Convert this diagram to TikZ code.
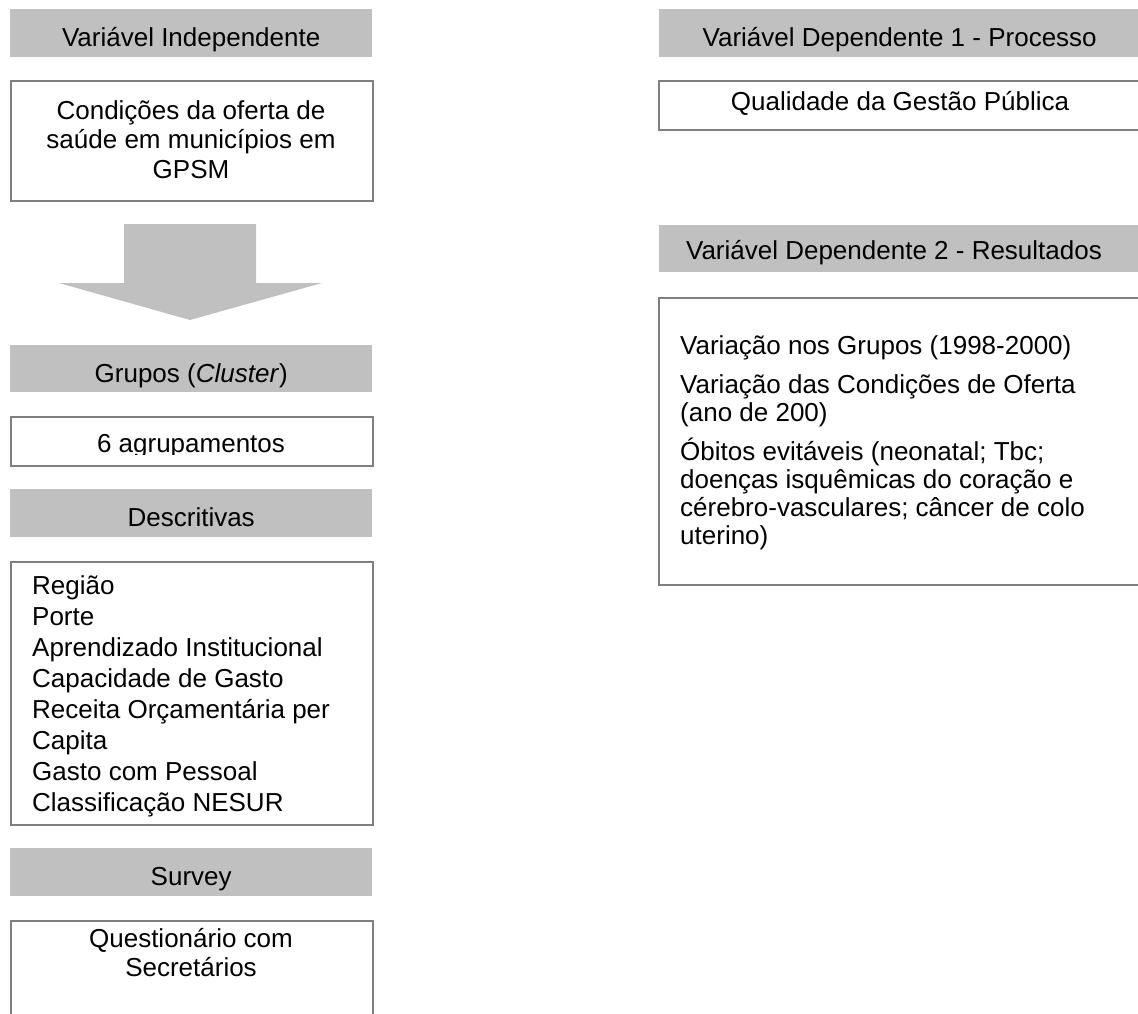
\documentclass[tikz,border=0pt]{standalone}
\usepackage{fontspec}
\setmainfont{Liberation Sans}
\usepackage{tikz}
\usetikzlibrary{positioning}
\usepackage{xcolor}
\definecolor{hdrgray}{RGB}{192,192,192}
\definecolor{boxgray}{RGB}{128,128,128}

\begin{document}
\begin{tikzpicture}[x=1pt,y=-1pt,
  hdr/.style={fill=hdrgray,inner sep=0pt,anchor=north west,minimum height=48pt,
    text height=27pt,text depth=0pt,font=\fontsize{26}{30}\selectfont},
  box/.style={draw=boxgray,line width=2pt,inner sep=0pt,anchor=north west},
  txt/.style={inner sep=0pt,anchor=base,align=center,font=\fontsize{26}{30}\selectfont},
  lst/.style={inner sep=0pt,anchor=base west,align=left,font=\fontsize{26}{31}\selectfont}]
\useasboundingbox (0,0) rectangle (1138,1013);
\clip (0,0) rectangle (1138,1013);

% left column
\node[hdr,minimum width=362pt] (indep) at (10,9) {Variável Independente};
\node[box,minimum width=362pt,minimum height=120pt] (oferta) at (10,80) {};
\node[txt,font=\fontsize{26}{29.5}\selectfont] (ofertatxt) at (191,178) {Condições da oferta de\\saúde em municípios em\\GPSM};
\fill[hdrgray] (124,224)--(256,224)--(256,283)--(322,283)--(190,320)--(59,283)--(124,283)--cycle;
\node[hdr,minimum width=362pt,minimum height=47pt] (grupos) at (10,345) {Grupos (\textit{Cluster})};
\node[box,minimum width=362pt,minimum height=49pt] (agrup) at (10,416) {};
\begin{scope}
\clip (10,416) rectangle (372,454);
\node[txt] (agruptxt) at (191,452) {6 agrupamentos};
\end{scope}
\node[hdr,minimum width=362pt] (descr) at (10,489) {Descritivas};
\node[box,minimum width=362pt,minimum height=263pt] (lista) at (10,561) {};
\node[lst] (listatxt) at (32,811) {Região\\Porte\\Aprendizado Institucional\\Capacidade de Gasto\\Receita Orçamentária per\\Capita\\Gasto com Pessoal\\Classificação NESUR};
\node[hdr,minimum width=362pt] (survey) at (10,848) {Survey};
\node[box,minimum width=362pt,minimum height=130pt] (quest) at (10,920) {};
\node[txt,font=\fontsize{26}{29}\selectfont] (questtxt) at (191,976) {Questionário com\\Secretários};

% right column
\node[hdr,minimum width=481pt] (dep1) at (659,9) {Variável Dependente 1 - Processo};
\node[box,minimum width=500pt,minimum height=49pt] (gestao) at (658,80) {};
\node[txt] (gestaotxt) at (900,110) {Qualidade da Gestão Pública};
\node[hdr,minimum width=481pt,minimum height=47pt] (dep2) at (659,225) {};
\node[txt] (dep2txt) at (894,259) {Variável Dependente 2 - Resultados};
\node[box,minimum width=500pt,minimum height=287pt] (result) at (658,297) {};
\node[lst,font=\fontsize{26}{28}\selectfont] (resulttxt) at (680,544) {Variação nos Grupos (1998-2000)\\[11pt]
  Variação das Condições de Oferta\\(ano de 200)\\[11pt]
  Óbitos evitáveis (neonatal; Tbc;\\doenças isquêmicas do coração e\\cérebro-vasculares; câncer de colo\\uterino)};
\end{tikzpicture}
\end{document}
